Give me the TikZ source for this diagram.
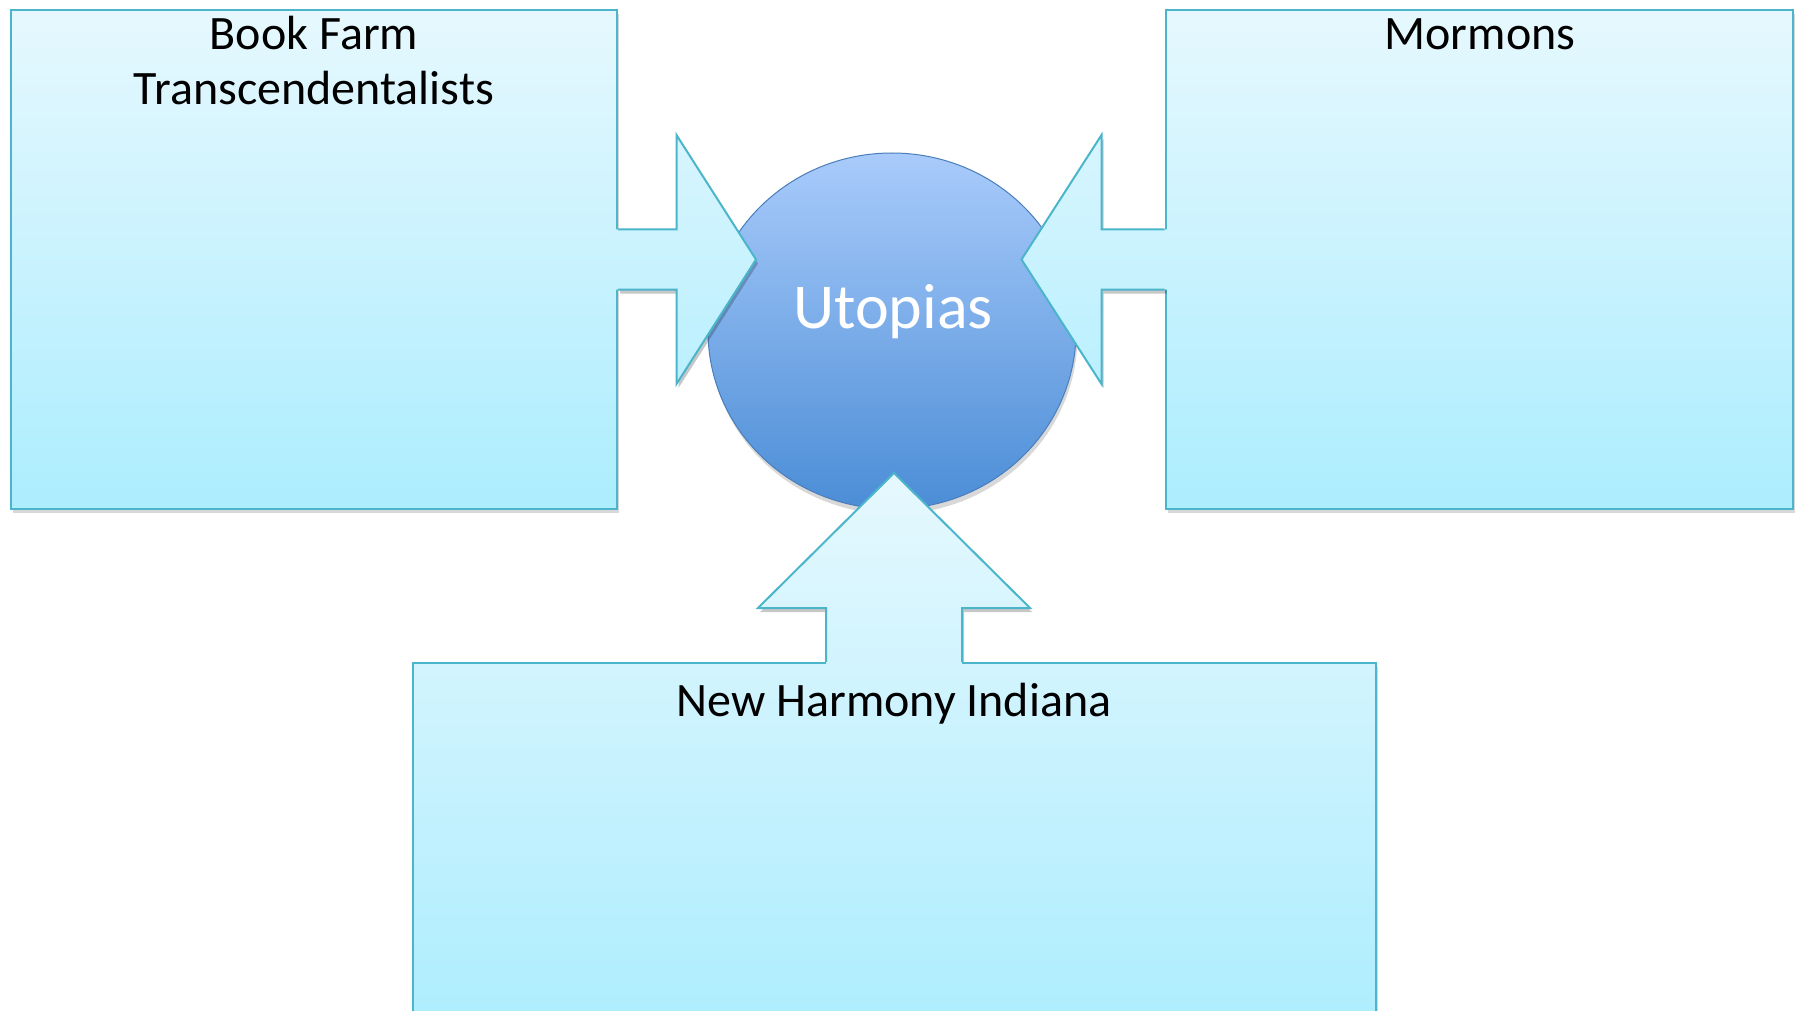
\documentclass[tikz,border=0pt]{standalone}
\usepackage{fontspec}
\setmainfont{Carlito}
\usetikzlibrary{shadows,shapes.geometric}
\definecolor{boxtop}{HTML}{E6F8FE}
\definecolor{boxbot}{HTML}{ACEDFE}
\definecolor{boxline}{HTML}{4BB5CB}
\definecolor{circtop}{HTML}{A9CBFB}
\definecolor{circbot}{HTML}{4B8DD6}
\definecolor{circline}{HTML}{4A7EBB}
\begin{document}
\begin{tikzpicture}[x=1pt,y=-1pt,
  panel/.style={rectangle, draw=boxline, line width=2pt, top color=boxtop, bottom color=boxbot, inner sep=0pt,
    drop shadow={opacity=0.3, shadow xshift=2pt, shadow yshift=-4pt}},
  hub/.style={ellipse, draw=circline, line width=1pt, top color=circtop, bottom color=circbot, inner sep=0pt,
    drop shadow={opacity=0.3, shadow xshift=1.5pt, shadow yshift=-5pt}},
  paneltext/.style={font=\fontsize{48}{58}\selectfont, text=black, inner sep=0pt, anchor=base},
  hubtext/.style={font=\fontsize{64}{76}\selectfont, text=white, inner sep=0pt, anchor=base},
  blockshadow/.style={fill=black, opacity=0.22, xshift=2pt, yshift=-4pt},
  blockline/.style={draw=boxline, line width=2pt, line join=miter},
  sideblock/.style={top color=boxtop!75!boxbot, bottom color=boxtop!25!boxbot},
  upblock/.style={top color=boxtop, bottom color=boxtop!65!boxbot},
]
\clip (0,0) rectangle (1802,1011);
\fill[white] (0,0) rectangle (1802,1011);

% hub
\node[hub, minimum width=368pt, minimum height=356pt] (utopias) at (892,331) {};
\node[hubtext] (utopiaslabel) at (893,328) {Utopias};

% panels
\node[panel, minimum width=606pt, minimum height=499pt] (bookfarm) at (314,259.5) {};
\node[panel, minimum width=627pt, minimum height=499pt] (mormons) at (1479,259.5) {};
\node[panel, top color=boxtop!65!boxbot, bottom color=boxbot!97!boxtop, minimum width=963pt, minimum height=358pt] (newharmony) at (894,842) {};

% left block arrow
\begin{scope}[shift={(bookfarm.east)}]
  \fill[blockshadow] (0,-30) -- (58.5,-30) -- (58.5,-124.5) -- (138,0) -- (58.5,124.5) -- (58.5,30) -- (0,30) -- cycle;
  \path[sideblock] (-3,-30) -- (58.5,-30) -- (58.5,-124.5) -- (138,0) -- (58.5,124.5) -- (58.5,30) -- (-3,30) -- cycle;
  \draw[blockline] (0,-30) -- (58.5,-30) -- (58.5,-124.5) -- (138,0) -- (58.5,124.5) -- (58.5,30) -- (0,30);
\end{scope}

% right block arrow
\begin{scope}[shift={(mormons.west)}]
  \fill[blockshadow] (0,-30) -- (-63,-30) -- (-63,-124.5) -- (-143,0) -- (-63,124.5) -- (-63,30) -- (0,30) -- cycle;
  \path[sideblock] (3,-30) -- (-63,-30) -- (-63,-124.5) -- (-143,0) -- (-63,124.5) -- (-63,30) -- (3,30) -- cycle;
  \draw[blockline] (0,-30) -- (-63,-30) -- (-63,-124.5) -- (-143,0) -- (-63,124.5) -- (-63,30) -- (0,30);
\end{scope}

% bottom block arrow
\begin{scope}[shift={(newharmony.north)}]
  \fill[blockshadow] (-68,-4) -- (-68,-54) -- (-136,-54) -- (0,-189) -- (136,-54) -- (68,-54) -- (68,-4) -- cycle;
  \path[upblock] (-68,3) -- (-68,-54) -- (-136,-54) -- (0,-189) -- (136,-54) -- (68,-54) -- (68,3) -- cycle;
  \draw[blockline] (-68,0) -- (-68,-54) -- (-136,-54) -- (0,-189) -- (136,-54) -- (68,-54) -- (68,0);
\end{scope}

% texts
\node[paneltext] (bookfarmlabel) at (314,50) {Book Farm};
\node[paneltext] (transclabel) at (314,105) {Transcendentalists};
\node[paneltext] (mormonslabel) at (1480,49.5) {Mormons};
\node[paneltext] (newharmonylabel) at (894,716) {New Harmony Indiana};
\end{tikzpicture}
\end{document}
